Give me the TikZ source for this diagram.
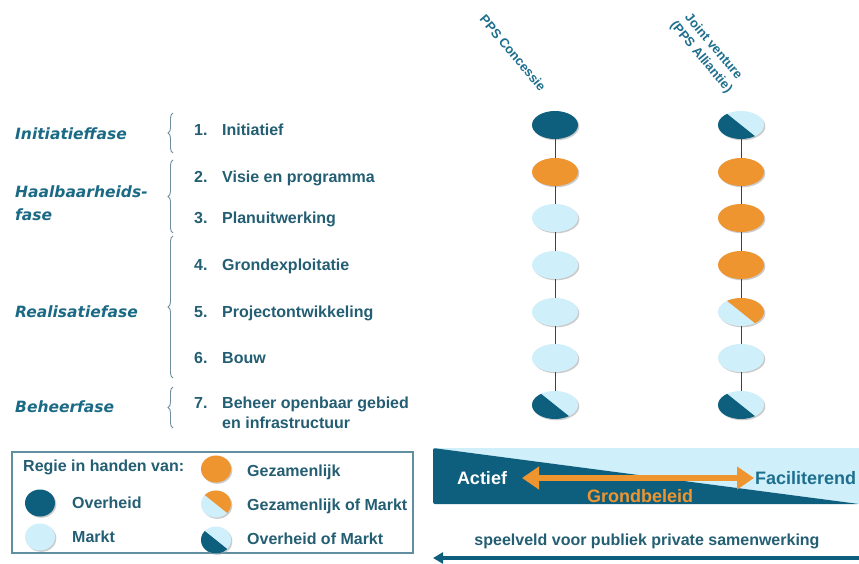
\documentclass[tikz,border=0pt]{standalone}
\usepackage{fontspec}
\setmainfont{Liberation Sans}
\newfontfamily\phasefont{DejaVu Sans}
\usetikzlibrary{shapes.geometric,arrows.meta,decorations.pathreplacing,shadows}
\definecolor{dteal}{HTML}{0E5F7D}
\definecolor{orng}{HTML}{EF9530}
\definecolor{lblue}{HTML}{CFEFFA}
\definecolor{txt}{HTML}{245E73}
\definecolor{phasec}{HTML}{1B6A85}
\definecolor{brc}{HTML}{6F8D9B}
\definecolor{framec}{HTML}{5F8FA1}
\definecolor{hdrc}{HTML}{1E6F8E}
\begin{document}
\begin{tikzpicture}[x=1pt,y=-1pt,
  bub/.style={ellipse, minimum width=46pt, minimum height=28pt, inner sep=0pt, draw=none,
    drop shadow={shadow xshift=1.3pt, shadow yshift=-1.3pt, fill=black!40, opacity=0.5}},
  sbub/.style={bub, minimum width=30pt, minimum height=27pt},
  ov/.style={fill=dteal},
  mk/.style={fill=lblue},
  gz/.style={fill=orng},
  ovmk/.style={fill=lblue, path picture={
     \fill[dteal] ([shift={(-30,-24)}]path picture bounding box.center) --
                  ([shift={(30,24)}]path picture bounding box.center) --
                  ([shift={(-30,24)}]path picture bounding box.center) -- cycle;}},
  gzmk/.style={fill=lblue, path picture={
     \fill[orng] ([shift={(-30,-24)}]path picture bounding box.center) --
                 ([shift={(30,24)}]path picture bounding box.center) --
                 ([shift={(30,-24)}]path picture bounding box.center) -- cycle;}},
  conn/.style={draw=black!75, line width=1pt},
  lbl/.style={font=\fontsize{16}{19}\selectfont\bfseries, text=txt, inner sep=0pt,
    anchor=west, text height=11.5pt, text depth=0pt},
  mlbl/.style={font=\fontsize{16}{20}\selectfont\bfseries, text=txt, inner sep=0pt,
    anchor=base west, align=left},
  phase/.style={font=\phasefont\bfseries\itshape\fontsize{15.5}{22}\selectfont, text=phasec,
    inner sep=0pt, anchor=base west, align=left},
  hdr/.style={font=\fontsize{13}{16}\selectfont\bfseries, text=hdrc, inner sep=0pt},
  brc/.style={draw=brc, line width=0.9pt, decorate, decoration={brace, amplitude=5pt}},
  big/.style={font=\fontsize{18}{21}\selectfont\bfseries, inner sep=0pt, text height=13pt, text depth=0pt}
]
\useasboundingbox[fill=white] (0,0) rectangle (859,564);

% headers
\node[hdr, rotate=-50] (hc) at (513,53) {PPS Concessie};
\node[hdr, rotate=-50, align=center] (hj) at (707,52) {Joint venture\\(PPS Alliantie)};

% phase labels
\node[phase] (p1) at (15,139.5) {Initiatieffase};
\node[phase] (p2) at (15,220) {Haalbaarheids-\\fase};
\node[phase] (p3) at (15,317.5) {Realisatiefase};
\node[phase] (p4) at (15,412.5) {Beheerfase};

% braces
\draw[brc] (173,153) -- (173,113);
\draw[brc] (173,233) -- (173,160);
\draw[brc] (173,378) -- (173,236);
\draw[brc] (173,428) -- (173,387);

% items
\node[lbl] (n1) at (194,130) {1.};
\node[lbl] (t1) at (222,130) {Initiatief};
\node[lbl] (n2) at (194,177) {2.};
\node[lbl] (t2) at (222,177) {Visie en programma};
\node[lbl] (n3) at (194,218) {3.};
\node[lbl] (t3) at (222,218) {Planuitwerking};
\node[lbl] (n4) at (194,265) {4.};
\node[lbl] (t4) at (222,265) {Grondexploitatie};
\node[lbl] (n5) at (194,312) {5.};
\node[lbl] (t5) at (222,312) {Projectontwikkeling};
\node[lbl] (n6) at (194,358) {6.};
\node[lbl] (t6) at (222,358) {Bouw};
\node[lbl] (n7) at (194,403) {7.};
\node[mlbl] (t7) at (222,428.8) {Beheer openbaar gebied\\en infrastructuur};

% bubble columns
\node[bub, ov]   (c1) at (555,125) {};
\node[bub, gz]   (c2) at (555,172) {};
\node[bub, mk]   (c3) at (555,218) {};
\node[bub, mk]   (c4) at (555,265) {};
\node[bub, mk]   (c5) at (555,312) {};
\node[bub, mk]   (c6) at (555,358) {};
\node[bub, ovmk] (c7) at (555,405) {};
\node[bub, ovmk] (j1) at (741,125) {};
\node[bub, gz]   (j2) at (741,172) {};
\node[bub, gz]   (j3) at (741,218) {};
\node[bub, gz]   (j4) at (741,265) {};
\node[bub, gzmk] (j5) at (741,312) {};
\node[bub, mk]   (j6) at (741,358) {};
\node[bub, ovmk] (j7) at (741,405) {};
\foreach \a/\b in {1/2,2/3,3/4,4/5,5/6,6/7}{
  \draw[conn] (c\a) -- (c\b);
  \draw[conn] (j\a) -- (j\b);
}

% legend
\draw[draw=framec, line width=1.5pt] (12,452) rectangle (413,553);
\node[lbl] (lt) at (23,466) {Regie in handen van:};
\node[sbub, ov]   (lo)  at (40,503) {};
\node[lbl] (lot) at (72,503) {Overheid};
\node[sbub, mk]   (lm)  at (40,537) {};
\node[lbl] (lmt) at (72,537) {Markt};
\node[sbub, gz]   (rg)  at (216,469) {};
\node[lbl] (rgt) at (247,471) {Gezamenlijk};
\node[sbub, gzmk] (rgm) at (216,504) {};
\node[lbl] (rgmt) at (247,505) {Gezamenlijk of Markt};
\node[sbub, ovmk] (rom) at (216,540) {};
\node[lbl] (romt) at (247,539) {Overheid of Markt};

% grondbeleid bar
\fill[lblue] (433,448) -- (859,448) -- (859,504) -- cycle;
\fill[dteal, rounded corners=2pt] (433,448) -- (859,504) -- (433,504) -- cycle;
\coordinate (gl) at (522,478);
\coordinate (gr) at (754,478);
\draw[orng, line width=6.5pt, {Triangle[length=17pt,width=22pt]}-{Triangle[length=17pt,width=22pt]}] (gl) -- (gr);
\node[big, text=white] (act) at (482,478) {Actief};
\node[big, text=hdrc, anchor=west] (fac) at (755,478) {Faciliterend};
\node[big, text=orng] (gb) at (640,496) {Grondbeleid};

% speelveld arrow
\node[lbl, anchor=center] (sp) at (647,540) {speelveld voor publiek private samenwerking};
\coordinate (ar) at (859,558);
\coordinate (al) at (433,558);
\draw[dteal, line width=3.5pt, -{Triangle[length=10pt,width=11pt]}] (ar) -- (al);
\end{tikzpicture}
\end{document}
